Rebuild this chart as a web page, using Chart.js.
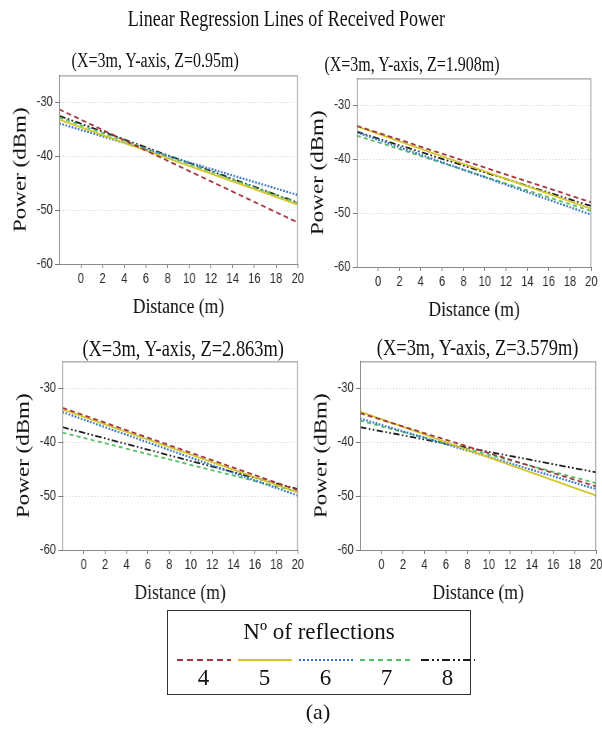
<!DOCTYPE html>
<html>
<head>
<meta charset="utf-8">
<title>Linear Regression Lines of Received Power</title>
<script src="https://cdn.jsdelivr.net/npm/chart.js@4.4.1/dist/chart.umd.min.js"></script>
<style>
    html, body { margin: 0; padding: 0; background: #fff; overflow: hidden; }
    body { width: 602px; height: 738px; position: relative; font-family: "Liberation Serif", "Times New Roman", serif; color: #111; }
    /* the figure is laid out wider and squeezed horizontally */
    #sheet { position: absolute; left: 0; top: 0; width: 753px; height: 738px; transform: scaleX(0.8); transform-origin: 0 0; }
    .panel { position: absolute; }
    .label { position: absolute; transform: translate(-50%, -50%); white-space: nowrap; line-height: 1; }
    #leyenda { position: absolute; left: 167px; top: 610px; width: 302px; height: 83px; border: 1.5px solid #333; }
    #leyenda .titulo { position: absolute; left: 0; right: 0; top: 8px; text-align: center; font-size: 23px; }
    #items { position: absolute; left: 5px; top: 46px; display: flex; }
    .item { width: 61px; text-align: center; }
    .item svg { display: block; margin: 0 auto; }
    .item span { display: block; font-size: 23px; line-height: 1; margin-top: 3px; }
</style>
</head>
<body>
<div id="sheet">
    <div class="label" style="left:358px; top:19px; font-size:22.5px;">Linear Regression Lines of Received Power</div>
</div>
<div id="leyenda">
    <div class="titulo">Nº of reflections</div>
    <div id="items"></div>
</div>
<div class="label" style="left:318px; top:712px; font-size:22px;">(a)</div>

<script>
// distance span covered by each fitted line (m)
const distance = [-2, 20];
const reflections = ["4", "5", "6", "7", "8"];
const xTicks = [0, 2, 4, 6, 8, 10, 12, 14, 16, 18, 20];
const yTicks = [-60, -50, -40, -30];

// power (dBm) at both ends of each regression line, one row per reflection count
const powerZ0950 = [[-31.3, -52.3], [-33.2, -49.0], [-33.9, -47.2], [-32.8, -48.7], [-32.5, -48.6]];
const powerZ1908 = [[-33.8, -48.0], [-33.9, -49.2], [-35.0, -50.3], [-35.6, -49.6], [-34.9, -48.7]];
const powerZ2863 = [[-33.6, -48.9], [-33.9, -49.3], [-34.4, -49.9], [-38.2, -49.2], [-37.2, -48.7]];
const powerZ3579 = [[-34.6, -48.2], [-34.3, -49.9], [-35.6, -48.7], [-36.0, -47.6], [-37.2, -45.6]];

// line look for each reflection count
const lineColors = ["#a3343e", "#d2c429", "#2f6fc7", "#55bf62", "#1c1c1c"];
const lineDash = [[6, 4], [], [2, 2], [5, 4], [8, 3, 2, 3, 2, 3]];
const lineWidth = [1.8, 1.8, 2.2, 1.8, 1.8];

const panels = [
    { title: "(X=3m, Y-axis, Z=0.95m)", data: powerZ0950, box: [0, 64, 383, 260], titlePos: [194, 60], titleSize: 20 },
    { title: "(X=3m, Y-axis, Z=1.908m)", data: powerZ1908, box: [372, 67, 378, 260], titlePos: [515, 64], titleSize: 20 },
    { title: "(X=3m, Y-axis, Z=2.863m)", data: powerZ2863, box: [4, 350, 379, 260], titlePos: [229, 348], titleSize: 23 },
    { title: "(X=3m, Y-axis, Z=3.579m)", data: powerZ3579, box: [376, 350, 380, 260], titlePos: [597, 347], titleSize: 23 }
];

// grey frame round the plot area
const marco = {
    id: "marco",
    afterDraw(chart) {
        const { ctx, chartArea: a } = chart;
        ctx.save();
        ctx.strokeStyle = "#8a8a8a";
        ctx.lineWidth = 1;
        ctx.strokeRect(a.left + 0.5, a.top + 0.5, a.width - 1, a.height);
        ctx.restore();
    }
};

const sheet = document.getElementById("sheet");
const serif = "'Liberation Serif', 'Times New Roman', serif";
const sans = "'Liberation Sans', Arial, sans-serif";

panels.forEach(p => {
    const t = document.createElement("div");
    t.className = "label";
    t.style.left = p.titlePos[0] + "px";
    t.style.top = p.titlePos[1] + "px";
    t.style.fontSize = p.titleSize + "px";
    t.textContent = p.title;
    sheet.appendChild(t);

    const div = document.createElement("div");
    div.className = "panel";
    div.style.left = p.box[0] + "px";
    div.style.top = p.box[1] + "px";
    div.style.width = p.box[2] + "px";
    div.style.height = p.box[3] + "px";
    const canvas = document.createElement("canvas");
    div.appendChild(canvas);
    sheet.appendChild(div);

    new Chart(canvas, {
        type: "line",
        data: {
            datasets: reflections.map((r, i) => ({
                label: r,
                data: distance.map((d, k) => ({ x: d, y: p.data[i][k] })),
                borderColor: lineColors[i],
                borderDash: lineDash[i],
                borderWidth: lineWidth[i],
                pointRadius: 0,
                fill: false,
                tension: 0
            }))
        },
        options: {
            responsive: true,
            maintainAspectRatio: false,
            animation: false,
            layout: { padding: { top: 10, right: 10, left: 0, bottom: 0 } },
            plugins: { legend: { display: false }, tooltip: { enabled: false } },
            scales: {
                x: {
                    type: "linear",
                    min: distance[0],
                    max: distance[1],
                    afterBuildTicks: axis => { axis.ticks = xTicks.map(v => ({ value: v })); },
                    afterFit: scale => { scale.height = 60; },
                    ticks: { color: "#2a2a2a", font: { family: sans, size: 14 }, padding: 3, maxRotation: 0, autoSkip: false },
                    grid: { drawOnChartArea: false, tickLength: 4, tickColor: "#777" },
                    border: { color: "#666", width: 1 },
                    title: { display: true, text: "Distance (m)", color: "#111", font: { family: serif, size: 22, weight: "normal" }, padding: { top: 0, bottom: 4 } }
                },
                y: {
                    min: -60,
                    max: -25,
                    afterBuildTicks: axis => { axis.ticks = yTicks.map(v => ({ value: v })); },
                    afterFit: scale => { scale.width = 74; },
                    ticks: { color: "#2a2a2a", font: { family: sans, size: 14 }, padding: 3 },
                    grid: {
                        color: ctx => ctx.tick && ctx.tick.value === -60 ? "rgba(0,0,0,0)" : "#c4c4c4",
                        tickLength: 5,
                        tickColor: "#777"
                    },
                    border: { color: "#666", width: 1, dash: [1, 3] },
                    title: { display: true, text: "Power (dBm)", color: "#111", font: { family: serif, size: 23, weight: "normal" }, padding: { top: 12, bottom: 0 } }
                }
            }
        },
        plugins: [marco]
    });
});

// legend row: one line sample and number per reflection count
const items = document.getElementById("items");
reflections.forEach((r, i) => {
    const it = document.createElement("div");
    it.className = "item";
    it.innerHTML = '<svg width="54" height="6"><line x1="0" y1="3" x2="54" y2="3" stroke="' + lineColors[i] +
        '" stroke-width="' + lineWidth[i] + '" stroke-dasharray="' + (lineDash[i].join(",") || "none") + '"/></svg><span>' + r + '</span>';
    items.appendChild(it);
});
</script>
</body>
</html>
